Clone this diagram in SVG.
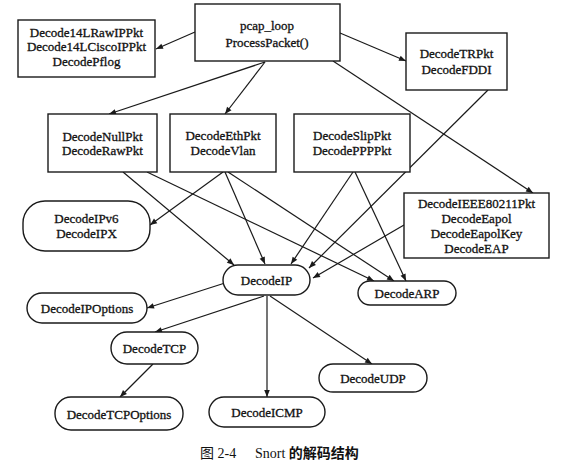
<svg xmlns="http://www.w3.org/2000/svg" width="562" height="466" viewBox="0 0 562 466">
<defs>
<marker id="ah" viewBox="0 0 10 10" refX="10" refY="5" markerWidth="8" markerHeight="7" orient="auto" markerUnits="userSpaceOnUse">
<path d="M0,1 L10,5 L0,9 z" fill="#1a1a1a"/>
</marker>
<style>
.n rect{fill:#fff;stroke:#1a1a1a;stroke-width:1.4}
.n text{font-family:"Liberation Serif","Times New Roman",serif;font-size:13px;fill:#111;stroke:#111;stroke-width:0.3;text-anchor:middle}
#edges line{stroke:#1a1a1a;stroke-width:1.2;marker-end:url(#ah)}
.cap{font-family:"Liberation Serif","Noto Sans CJK SC",serif;font-size:14px;fill:#111}
</style>
</defs>
<rect width="562" height="466" fill="#fff"/>
<g id="edges">
<line x1="195" y1="32" x2="156" y2="49"/>
<line x1="340" y1="33" x2="406" y2="61"/>
<line x1="265" y1="62" x2="109" y2="114"/>
<line x1="265" y1="62" x2="225" y2="114"/>
<line x1="333" y1="61" x2="533" y2="193"/>
<line x1="488" y1="90" x2="309" y2="268"/>
<line x1="123" y1="172" x2="234" y2="265"/>
<line x1="147" y1="172" x2="374" y2="281"/>
<line x1="223" y1="172" x2="150" y2="225"/>
<line x1="225" y1="172" x2="265" y2="264"/>
<line x1="228" y1="172" x2="394" y2="281"/>
<line x1="353" y1="172" x2="291" y2="264"/>
<line x1="355" y1="172" x2="406" y2="281"/>
<line x1="404" y1="225" x2="313" y2="278"/>
<line x1="225" y1="283" x2="147" y2="308"/>
<line x1="264" y1="296" x2="155" y2="332"/>
<line x1="267" y1="296" x2="267" y2="397"/>
<line x1="270" y1="296" x2="372" y2="364"/>
<line x1="153" y1="364" x2="120" y2="397"/>
</g>
<g id="pcap" class="n"><rect x="195" y="4" width="145" height="57"/><text x="267" y="30">pcap_loop</text><text x="267" y="47">ProcessPacket()</text></g>
<g id="d14l" class="n"><rect x="18" y="20" width="137" height="57"/><text x="86.5" y="36.5">Decode14LRawIPPkt</text><text x="86.5" y="51">Decode14LCiscoIPPkt</text><text x="86.5" y="65.5">DecodePflog</text></g>
<g id="trpkt" class="n"><rect x="406" y="33" width="101" height="57"/><text x="456.5" y="58">DecodeTRPkt</text><text x="456.5" y="74">DecodeFDDI</text></g>
<g id="nullpkt" class="n"><rect x="48" y="114" width="109" height="58"/><text x="102.5" y="140.5">DecodeNullPkt</text><text x="102.5" y="155">DecodeRawPkt</text></g>
<g id="ethpkt" class="n"><rect x="170" y="114" width="106" height="58"/><text x="223" y="140">DecodeEthPkt</text><text x="223" y="155">DecodeVlan</text></g>
<g id="slippkt" class="n"><rect x="294" y="114" width="116" height="58"/><text x="352" y="140">DecodeSlipPkt</text><text x="352" y="155">DecodePPPPkt</text></g>
<g id="ieee" class="n"><rect x="404" y="193" width="145" height="65"/><text x="476.5" y="207.5">DecodeIEEE80211Pkt</text><text x="476.5" y="222.5">DecodeEapol</text><text x="476.5" y="238">DecodeEapolKey</text><text x="476.5" y="253">DecodeEAP</text></g>
<g id="ipv6" class="n"><rect x="23" y="201" width="127" height="50" rx="22" ry="22"/><text x="86.5" y="222.5">DecodeIPv6</text><text x="86.5" y="237.5">DecodeIPX</text></g>
<g id="ip" class="n"><rect x="223" y="265" width="87" height="30" rx="15" ry="15"/><text x="266.5" y="285">DecodeIP</text></g>
<g id="arp" class="n"><rect x="358" y="281" width="98" height="24" rx="12" ry="12"/><text x="407" y="297.5">DecodeARP</text></g>
<g id="ipopt" class="n"><rect x="27" y="293" width="120" height="30" rx="15" ry="15"/><text x="87" y="312.5">DecodeIPOptions</text></g>
<g id="tcp" class="n"><rect x="111" y="332" width="87" height="32" rx="16" ry="16"/><text x="154.5" y="353">DecodeTCP</text></g>
<g id="tcpopt" class="n"><rect x="55" y="397" width="128" height="33" rx="16" ry="16"/><text x="119" y="418.5">DecodeTCPOptions</text></g>
<g id="icmp" class="n"><rect x="209" y="397" width="116" height="30" rx="15" ry="15"/><text x="267" y="416.5">DecodeICMP</text></g>
<g id="udp" class="n"><rect x="319" y="364" width="108" height="28" rx="14" ry="14"/><text x="373" y="382.5">DecodeUDP</text></g>
<text class="cap" x="200" y="458">图 2-4<tspan x="255">Snort </tspan><tspan font-weight="bold" font-family="'Noto Sans CJK SC',sans-serif">的解码结构</tspan></text>
</svg>
